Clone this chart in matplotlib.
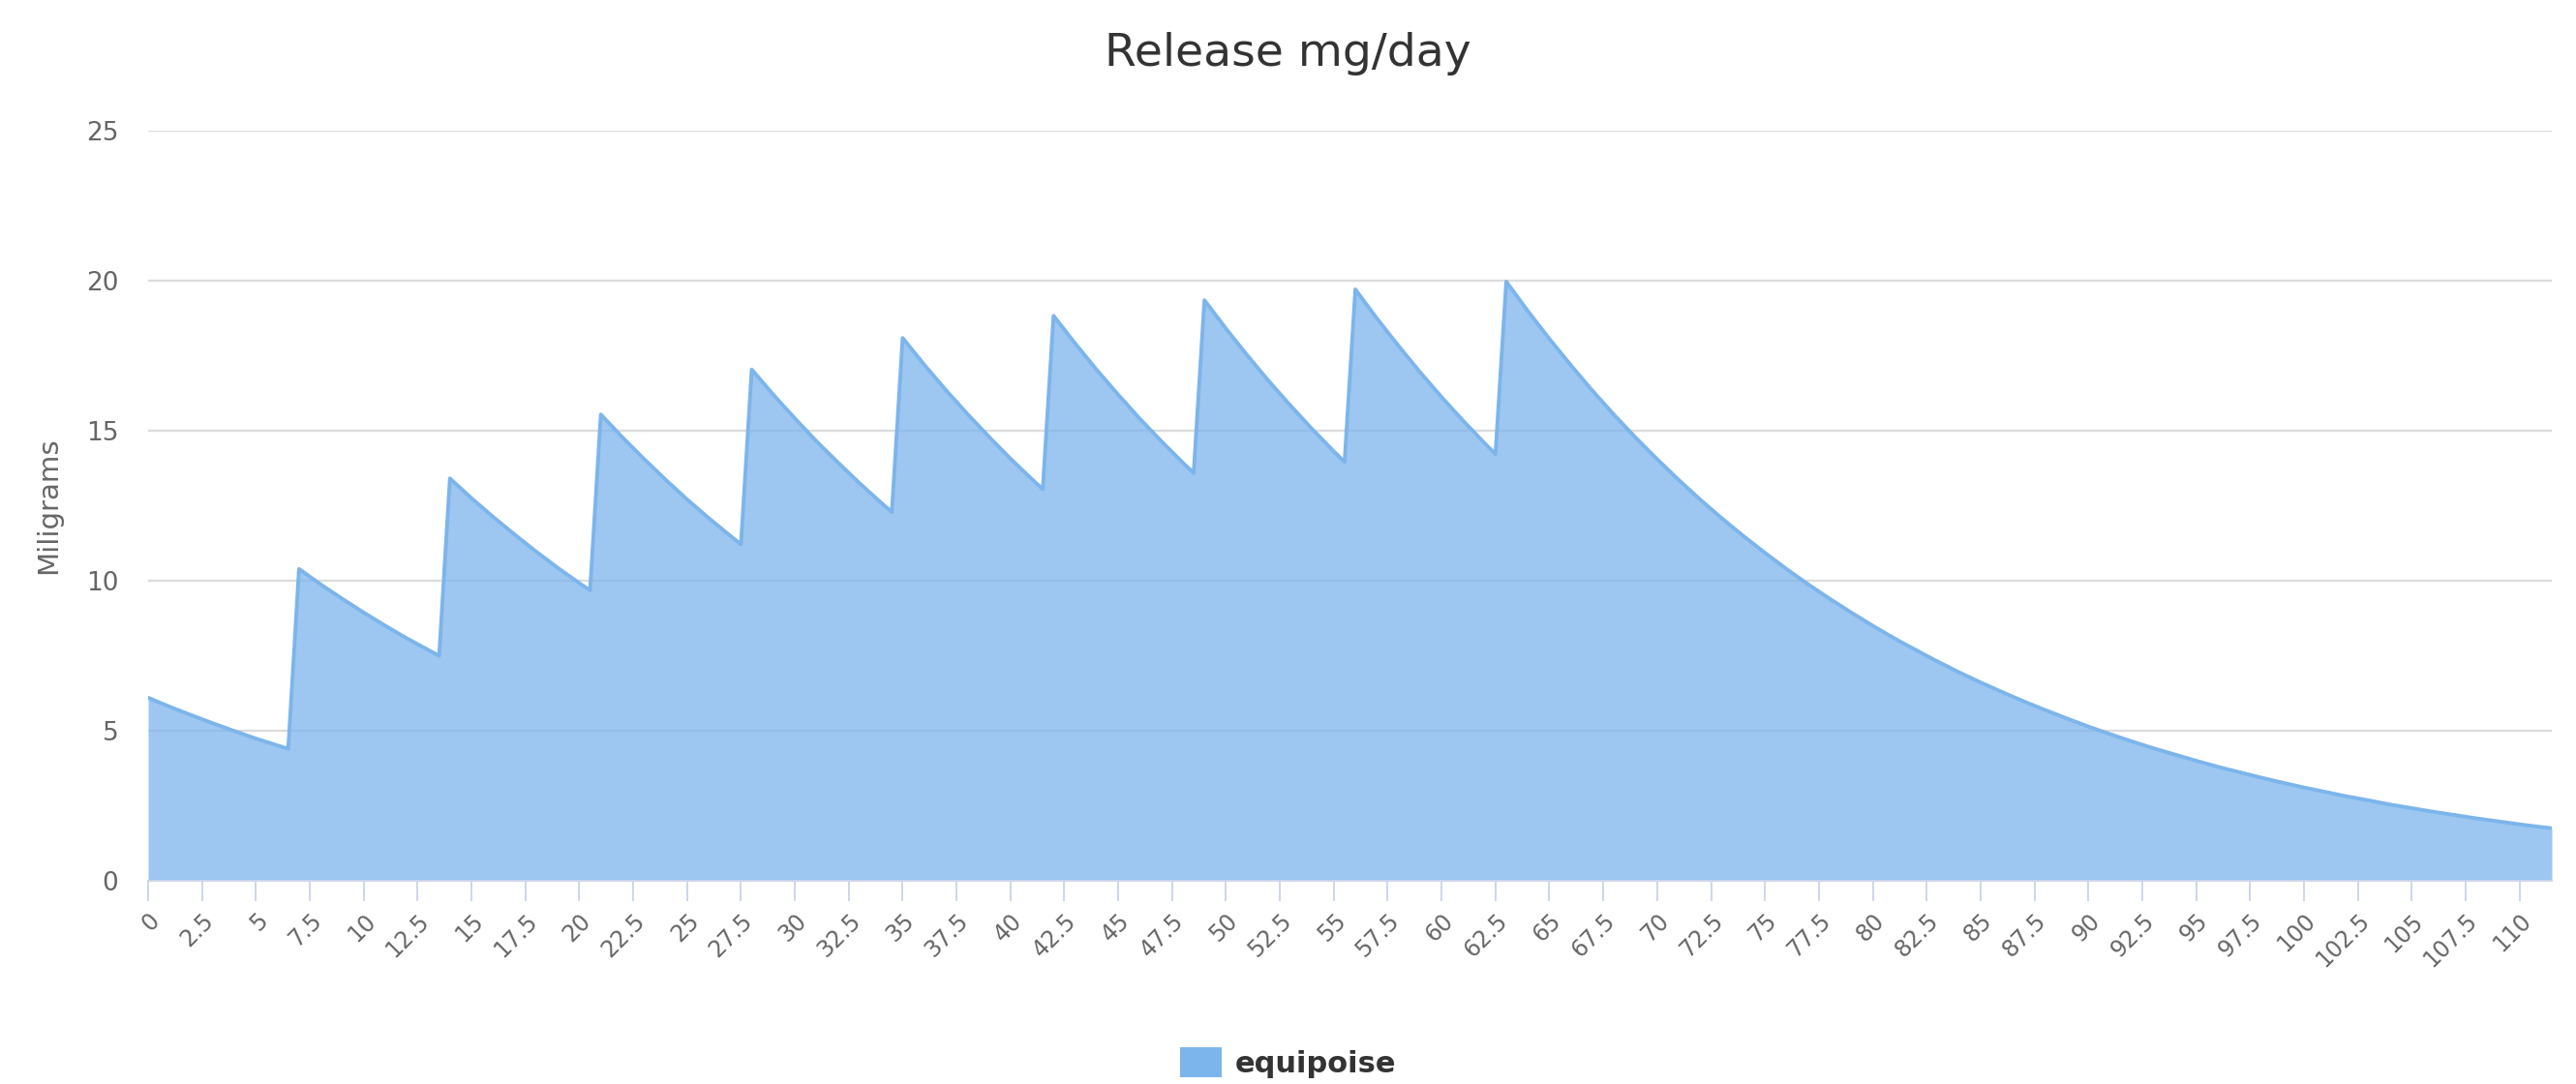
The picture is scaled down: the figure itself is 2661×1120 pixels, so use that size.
import numpy as np
import matplotlib.pyplot as plt
from matplotlib.patches import Patch

# day, mg/day released
days = [0, 1, 2, 3, 4, 5, 6, 6.5,
        7, 8, 9, 10, 11, 12, 13, 13.5,
        14, 15, 16, 17, 18, 19, 20, 20.5,
        21, 22, 23, 24, 25, 26, 27, 27.5,
        28, 29, 30, 31, 32, 33, 34, 34.5,
        35, 36, 37, 38, 39, 40, 41, 41.5,
        42, 43, 44, 45, 46, 47, 48, 48.5,
        49, 50, 51, 52, 53, 54, 55, 55.5,
        56, 57, 58, 59, 60, 61, 62, 62.5,
        63, 64, 65, 66, 67, 68, 69, 70, 71, 72, 73, 74, 75, 76, 77, 78,
        79, 80, 81, 82, 83, 84, 85, 86, 87, 88, 89, 90, 91, 92, 93, 94,
        95, 96, 97, 98, 99, 100, 101, 102, 103, 104, 105, 106, 107, 108,
        109, 110, 111, 111.5]
mg = [6.10, 5.80, 5.52, 5.25, 4.99, 4.74, 4.51, 4.40,
      10.39, 9.88, 9.40, 8.94, 8.50, 8.08, 7.69, 7.50,
      13.41, 12.75, 12.13, 11.54, 10.97, 10.43, 9.92, 9.68,
      15.54, 14.78, 14.06, 13.37, 12.71, 12.09, 11.50, 11.21,
      17.04, 16.20, 15.41, 14.65, 13.94, 13.25, 12.60, 12.29,
      18.09, 17.20, 16.36, 15.56, 14.80, 14.07, 13.38, 13.05,
      18.83, 17.91, 17.03, 16.20, 15.40, 14.65, 13.93, 13.59,
      19.35, 18.40, 17.50, 16.64, 15.83, 15.05, 14.31, 13.96,
      19.71, 18.74, 17.83, 16.95, 16.12, 15.33, 14.58, 14.22,
      19.97, 18.99, 18.06, 17.18, 16.33, 15.53, 14.77, 14.05, 13.36, 12.70,
      12.08, 11.49, 10.93, 10.39, 9.88, 9.40,
      8.94, 8.50, 8.08, 7.69, 7.31, 6.95, 6.61, 6.29, 5.98, 5.69, 5.41,
      5.14, 4.89, 4.65, 4.42, 4.21,
      4.00, 3.80, 3.62, 3.44, 3.27, 3.11, 2.96, 2.81, 2.68, 2.54, 2.42,
      2.30, 2.19, 2.08,
      1.98, 1.88, 1.79, 1.75]

xticks = np.arange(0, 111, 2.5)
yticks = [0, 5, 10, 15, 20, 25]
series_name = 'equipoise'

plt.rcParams['font.family'] = ['DejaVu Sans']

fig = plt.figure(figsize=(26.61, 11.2), dpi=100)
ax = fig.add_axes([153/2661, 210/1120, (2636-153)/2661, (985-210)/1120])

color = '#7cb5ec'
ax.fill_between(days, mg, 0, color=color, alpha=0.75, lw=0, zorder=2)
ax.plot(days, mg, color=color, lw=2.8, zorder=3, solid_joinstyle='round')

ax.set_xlim(0, 111.5)
ax.set_ylim(0, 25)
ax.set_yticks(yticks)
ax.set_xticks(xticks)
ax.set_xticklabels([('%g' % t) for t in xticks], rotation=45, ha='right',
                   rotation_mode='anchor', fontsize=17, color='#666666')
ax.tick_params(axis='x', length=15, width=1.4, color='#ccd6eb', pad=6)
ax.tick_params(axis='y', length=0, labelsize=19, labelcolor='#666666', pad=22)

ax.grid(axis='y', color='#dcdcdc', lw=1.7, zorder=0)
for s in ['top', 'right', 'left']:
    ax.spines[s].set_visible(False)
ax.spines['bottom'].set_color('#ccd6eb')
ax.spines['bottom'].set_linewidth(1.4)
ax.spines['bottom'].set_zorder(4)

ax.set_ylabel('Miligrams', fontsize=21, color='#666666', labelpad=18)
fig.text(0.5, 1 - 56/1120, 'Release mg/day', ha='center', va='center',
         fontsize=34, color='#333333')

handle = Patch(facecolor=color, edgecolor='none', label=series_name)
fig.legend(handles=[handle], loc='center', bbox_to_anchor=(0.5, 1 - 1098/1120),
           frameon=False, prop={'size': 22, 'weight': 'bold'},
           handlelength=1.4, handleheight=1.2, handletextpad=0.45,
           labelcolor='#333333')

fig.savefig('out.png', dpi=100)
